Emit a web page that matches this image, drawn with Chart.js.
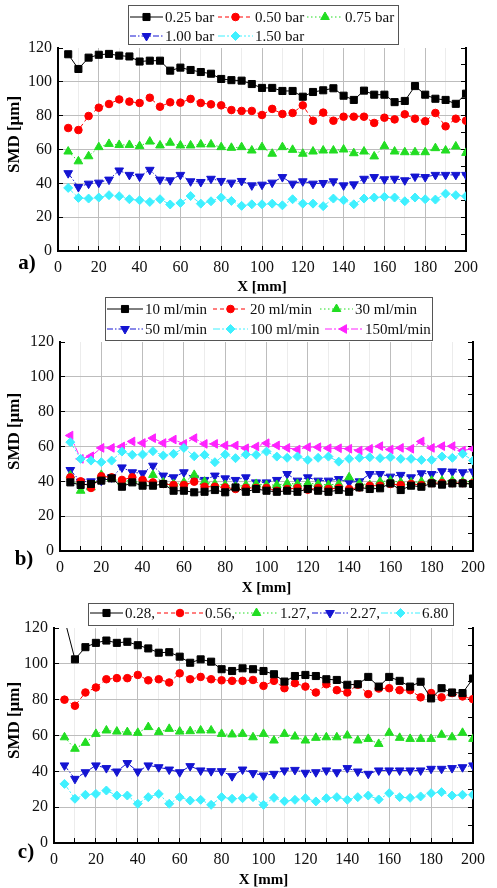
<!DOCTYPE html>
<html>
<head>
<meta charset="utf-8">
<script src="https://cdn.jsdelivr.net/npm/chart.js@4.4.1/dist/chart.umd.min.js"></script>
<style>
html, body { margin: 0; padding: 0; background: #fff; overflow: hidden; }
canvas { position: absolute; left: 0; }
</style>
</head>
<body>
<canvas id="chartA" width="497" height="296" style="top:0px"></canvas>
<canvas id="chartB" width="497" height="300" style="top:296px"></canvas>
<canvas id="chartC" width="497" height="292" style="top:596px"></canvas>
<script>
// X positions [mm]
const xPos = [5, 10, 15, 20, 25, 30, 35, 40, 45, 50, 55, 60, 65, 70, 75, 80, 85, 90, 95, 100,
  105, 110, 115, 120, 125, 130, 135, 140, 145, 150, 155, 160, 165, 170, 175, 180, 185, 190, 195, 200];

// a) pressure
const labelsA = ['0.25 bar', '0.50 bar', '0.75 bar', '1.00 bar', '1.50 bar'];
const a025 = [116.3, 107.6, 114.3, 116, 116.5, 115.5, 115, 112, 112.5, 112.5, 106.6, 108.4, 107, 105.8, 104.8, 101.7, 101, 100.7, 98.7, 96.4,
  96.4, 94.6, 94.6, 91.2, 94, 95, 96.2, 91.8, 89.3, 94.8, 92.4, 92.4, 88, 88.7, 97.5, 92.4, 90, 89.3, 87, 93];
const a050 = [72.7, 71.5, 79.8, 84.7, 86.9, 89.6, 88.3, 87.5, 90.6, 85.3, 87.9, 87.7, 89.9, 87.5, 86.7, 86.1, 83.3, 82.8, 82.8, 80.4,
  84, 81, 81.6, 86.1, 77, 81.8, 77, 79.4, 79.4, 79.4, 75.7, 78.8, 77.8, 80.8, 78.2, 76.7, 81.6, 73.7, 78.2, 77];
const a075 = [58.8, 53, 56, 61.4, 63.3, 62.7, 62.7, 62, 64.7, 62.4, 64, 62.4, 62.4, 63, 63, 61.4, 61, 61.4, 59.4, 61.4,
  57.5, 61.4, 59.8, 57.5, 58.8, 59.4, 59.4, 60, 57.8, 58.8, 55.9, 62, 58.8, 58.4, 58.4, 58.4, 60.8, 59.4, 61.8, 58];
const a100 = [46, 37.8, 39.8, 40.4, 42.2, 47.6, 45, 44, 48, 42.2, 41.8, 45, 41.2, 40.8, 42.7, 41.4, 40.4, 41.4, 38.8, 39.2,
  40.4, 43.7, 39.8, 41.2, 39.8, 40.2, 41.2, 38.8, 39.4, 42.7, 43.7, 42.4, 42.7, 41.8, 44, 43.7, 45, 45, 45, 45];
const a150 = [37.3, 31.4, 31, 31.6, 33, 32.4, 30.6, 30, 29, 30.6, 27.5, 28.4, 32.5, 28, 29.4, 31.6, 29.6, 26.7, 27.6, 27.6,
  28, 27, 30.6, 28, 28, 26.5, 31, 30, 27.6, 31, 31.6, 32, 31.6, 29.4, 31.6, 30.6, 30.4, 33.9, 33, 32.4];

// b) flow rate
const labelsB = ['10 ml/min', '20 ml/min', '30 ml/min', '50 ml/min', '100 ml/min', '150ml/min'];
const b10 = [39.4, 37.9, 38.5, 40.4, 41.7, 36.9, 39.4, 37.5, 37.5, 38.5, 34.6, 34.6, 33.7, 34, 35, 33.7, 36.5, 34, 35.6, 34.6,
  34, 34.6, 34, 35.6, 34.6, 34, 35, 34, 36.5, 35.6, 36, 38.8, 35, 37.5, 36.9, 38.8, 38.1, 38.8, 38.8, 38.5];
const b20 = [42.3, 40, 36.2, 42.9, 42.3, 40.8, 42.3, 40.8, 39.4, 38.5, 37.9, 37.9, 39.8, 36.9, 36.9, 36.5, 35.6, 36.2, 36.2, 36.2,
  34.6, 35.6, 36.2, 35.2, 36.2, 35.6, 36.2, 35.6, 36.5, 37.5, 37.5, 38.5, 37.9, 38.5, 37.9, 39, 39, 39, 39, 39];
const b30 = [43.3, 34.6, 36.5, 43.7, 41.7, 39.8, 40.8, 39.4, 43.7, 39.4, 38.5, 39.4, 43.7, 39.8, 38.5, 37.9, 36.9, 37.9, 38.5, 37.9,
  37.9, 38.8, 38.5, 38.8, 38.5, 37.9, 38.5, 42.3, 38.8, 37.9, 39.8, 40.4, 39.4, 39.4, 39.8, 40.4, 40.4, 40.4, 39.8, 39.8];
const b50 = [46.5, 39.8, 40, 40.4, 42.3, 48, 45.2, 44.6, 49, 43.3, 42.3, 45.2, 41.7, 40.8, 43.3, 41.7, 40.8, 42.3, 39.4, 39.4,
  40.8, 44.2, 40.4, 42.3, 40.4, 40.4, 41.3, 39.4, 40, 44.2, 44.2, 42.7, 43.7, 42.3, 44.6, 44.2, 45.8, 45.6, 45.2, 45.6];
const b100 = [62.5, 52.9, 51.9, 51, 51.9, 57.1, 55.2, 55.4, 57.3, 54.8, 55.8, 59.2, 54.4, 55.2, 51, 55.4, 53.3, 55.4, 55.2, 57.1,
  54.2, 53.5, 54.2, 52.3, 53.5, 54.2, 51.3, 52.9, 53.5, 53.8, 53.3, 53.8, 52.9, 52.9, 52.3, 52.3, 54.2, 53.5, 55.8, 51.9];
const b150 = [66.3, 52.9, 54.4, 59.2, 59.2, 60, 62.9, 62, 64.8, 62, 64, 61.5, 64.8, 61.5, 61.5, 60.6, 60.6, 59, 60, 61.9,
  60.6, 59.2, 58.3, 59.6, 59.6, 59, 59, 58.7, 57.7, 58.7, 60.2, 58.3, 59.2, 58.7, 62.9, 59.2, 60.2, 60.2, 57.7, 58.7];

// c)
const labelsC = ['0.28,', '0.56,', '1.27,', '2.27,', '6.80'];
const c028 = [125, 102.5, 109.3, 111.7, 113, 111.7, 112.3, 110.4, 108.6, 106.2, 106.5, 104, 100.6, 102.5, 101.2, 97, 96, 97.5, 97, 96,
  94.2, 90.1, 93.2, 93.8, 93.2, 91.4, 91, 88.3, 88.6, 92.7, 87.3, 92.7, 90.5, 87.3, 90, 80.7, 86.4, 84, 83.7, 91.8];
const c056 = [80, 76.6, 84, 86.8, 91.4, 92, 92, 93.8, 90.8, 91.4, 89.6, 94.7, 91.4, 92.7, 91.4, 90.8, 90.5, 90.5, 91, 87.7,
  90.5, 86.4, 89.2, 87.3, 84, 88.6, 85.3, 84, 88.3, 83.1, 86.2, 86.4, 85.3, 85.3, 81.3, 83.7, 81.3, 83.7, 81.8, 80.3];
const c127 = [59, 52.6, 55.9, 60.9, 62.8, 62.2, 61.9, 61.5, 64.7, 61.9, 63.7, 62.2, 62.4, 62.8, 62.8, 60.9, 60.6, 60.9, 59, 60.9,
  57.2, 60.9, 59.4, 57.2, 58.7, 59, 59, 60, 57.2, 58.1, 55.3, 61.5, 58.7, 58.1, 58.1, 58.1, 60.4, 59, 61.5, 58.1];
const c227 = [43.3, 35.8, 39.5, 43.3, 41.8, 39.9, 44.6, 39.9, 43.3, 42.3, 41, 39.5, 42.9, 40.5, 40.1, 40.1, 37.3, 41, 39, 37.7,
  38.6, 40.5, 40.8, 39.2, 39.5, 40.5, 39.5, 41.8, 39.9, 38.6, 40.5, 40.5, 40.5, 40.5, 40.5, 41.4, 41.4, 41.8, 42.3, 43.3];
const c680 = [33, 24.7, 26.9, 27.4, 29.3, 26.5, 26.5, 21.9, 25.6, 27.4, 21.9, 25.6, 23.7, 24.1, 21.3, 25.6, 24.7, 25, 25.6, 21.3,
  25.2, 23.3, 24.1, 25, 23.2, 25, 25.6, 24.1, 25.6, 26.5, 24.3, 27.8, 25.6, 25.2, 26, 27.8, 28.4, 26.5, 26.9, 26.9];

const FONT = '"Liberation Serif", "Times New Roman", serif';

// marker / line styles, one per series colour
const styles = [
  { color: '#000000', shape: 'rect', rot: 0, r: 5, dash: [] },
  { color: '#ff0000', shape: 'circle', rot: 0, r: 3.8, dash: [4, 3] },
  { color: '#22dd22', shape: 'triangle', rot: 0, r: 5, dash: [1.5, 2.5] },
  { color: '#1414d2', shape: 'triangle', rot: 180, r: 5, dash: [6, 2, 1.5, 2] },
  { color: '#3ff0ff', shape: 'rectRot', rot: 0, r: 4.5, dash: [7, 2, 2, 2, 2, 2] },
  { color: '#ff22ff', shape: 'triangle', rot: 270, r: 5, dash: [7, 2, 2, 2] }
];

// legend, axis title and panel letter
const deco = {
  id: 'deco',
  afterDraw(chart, args, o) {
    const ctx = chart.ctx;
    const ca = chart.chartArea;
    const ds = chart.data.datasets;

    ctx.save();
    ctx.fillStyle = '#000';
    ctx.font = 'bold 17px ' + FONT;
    ctx.textAlign = 'center';
    ctx.textBaseline = 'middle';
    ctx.translate(15, (ca.top + ca.bottom) / 2 - 15);
    ctx.rotate(-Math.PI / 2);
    ctx.fillText('SMD [\u03bcm]', 0, 0);
    ctx.restore();

    ctx.save();
    ctx.fillStyle = '#000';
    ctx.font = 'bold 21px ' + FONT;
    ctx.textAlign = 'center';
    ctx.textBaseline = 'middle';
    ctx.fillText(o.letter, o.letterPos[0], o.letterPos[1]);
    ctx.restore();

    const b = o.box;
    ctx.save();
    ctx.fillStyle = '#fff';
    ctx.fillRect(b[0], b[1], b[2] - b[0], b[3] - b[1]);
    ctx.strokeStyle = '#555';
    ctx.lineWidth = 1;
    ctx.strokeRect(b[0] + 0.5, b[1] + 0.5, b[2] - b[0], b[3] - b[1]);
    o.items.forEach(([i, y, x1, x2]) => {
      const d = ds[i];
      ctx.strokeStyle = d.borderColor;
      ctx.lineWidth = 1;
      ctx.setLineDash(d.borderDash);
      ctx.beginPath();
      ctx.moveTo(x1, y);
      ctx.lineTo(x2, y);
      ctx.stroke();
      ctx.setLineDash([]);
      ctx.fillStyle = d.borderColor;
      Chart.helpers.drawPoint(ctx, {
        pointStyle: d.pointStyle, rotation: d.pointRotation, radius: d.pointRadius, borderWidth: 1
      }, (x1 + x2) / 2, y);
      ctx.fillStyle = '#111';
      ctx.font = '15px ' + FONT;
      ctx.textAlign = 'left';
      ctx.textBaseline = 'middle';
      ctx.fillText(d.label, x2 + 2, y + 1);
    });
    ctx.restore();
  }
};

function gridColor(max) {
  return c => {
    const v = c.tick ? c.tick.value : 0;
    if (v === max) return 'rgba(0,0,0,0)';
    return v % 20 === 0 ? '#bdbdbd' : '#ececec';
  };
}

function makeChart(id, labels, values, o) {
  const datasets = values.map((vals, k) => {
    const st = styles[k];
    return {
      label: labels[k],
      data: xPos.map((x, i) => ({ x: x, y: vals[i] })),
      borderColor: st.color,
      backgroundColor: st.color,
      pointBackgroundColor: st.color,
      pointBorderColor: st.color,
      borderWidth: 1,
      borderDash: st.dash,
      pointStyle: st.shape,
      pointRotation: st.rot,
      pointRadius: st.r,
      pointBorderWidth: 1,
      tension: 0
    };
  });

  return new Chart(document.getElementById(id), {
    type: 'line',
    data: { datasets: datasets },
    plugins: [deco],
    options: {
      responsive: false,
      animation: false,
      events: [],
      layout: { padding: { top: o.top, left: 0, right: 0, bottom: 0 } },
      plugins: {
        legend: { display: false },
        tooltip: { enabled: false },
        deco: o
      },
      scales: {
        x: {
          type: 'linear', position: 'bottom', min: 0, max: 200,
          ticks: {
            stepSize: 10, autoSkip: false, maxRotation: 0, padding: 12,
            color: '#111', font: { family: FONT, size: 16 },
            callback: v => (v % 20 === 0 ? v : '')
          },
          grid: { color: gridColor(-1), tickColor: '#000', tickLength: -5 },
          border: { color: '#000', width: 2 },
          title: {
            display: true, text: 'X [mm]', color: '#000',
            font: { family: FONT, size: 15, weight: 'bold', lineHeight: 1 },
            padding: { top: 0, bottom: o.titlePad }
          },
          afterFit: s => { s.height = o.bottomH; }
        },
        y: {
          position: 'left', min: 0, max: 120,
          ticks: {
            stepSize: 10, padding: 11,
            color: '#111', font: { family: FONT, size: 16 },
            callback: v => (v % 20 === 0 ? v : '')
          },
          grid: { color: gridColor(120), tickColor: '#000', tickLength: -5 },
          border: { color: '#000', width: 2 },
          afterFit: s => { s.width = o.leftW; }
        },
        y2: {
          position: 'right', min: 0, max: 120,
          ticks: { stepSize: 10, display: false },
          grid: { drawOnChartArea: false, tickColor: '#000', tickLength: -5 },
          border: { color: '#000', width: 2 },
          afterFit: s => { s.width = o.rightW; }
        }
      }
    }
  });
}

makeChart('chartA', labelsA, [a025, a050, a075, a100, a150], {
  top: 48, leftW: 58, rightW: 31, bottomH: 45, titlePad: 1,
  letter: 'a)', letterPos: [27, 264],
  box: [128, 5, 398, 44],
  items: [[0, 17, 130, 163], [1, 17, 218, 253], [2, 17, 307, 343],
          [3, 36, 130, 163], [4, 36, 218, 253]]
});

makeChart('chartB', labelsB, [b10, b20, b30, b50, b100, b150], {
  top: 46, leftW: 60, rightW: 14, bottomH: 45, titlePad: 0,
  letter: 'b)', letterPos: [24, 264],
  box: [105, 1, 432, 44],
  items: [[0, 13, 107, 143], [1, 13, 213, 248], [2, 13, 320, 353],
          [3, 33, 107, 143], [4, 33, 213, 248], [5, 33, 325, 363]]
});

makeChart('chartC', labelsC, [c028, c056, c127, c227, c680], {
  top: 32, leftW: 54, rightW: 13, bottomH: 45, titlePad: 0,
  letter: 'c)', letterPos: [26, 257],
  box: [88, 7, 453, 29],
  items: [[0, 17, 90, 123], [1, 17, 157, 203], [2, 17, 235, 278],
          [3, 17, 312, 348], [4, 17, 381, 420]]
});
</script>
</body>
</html>
